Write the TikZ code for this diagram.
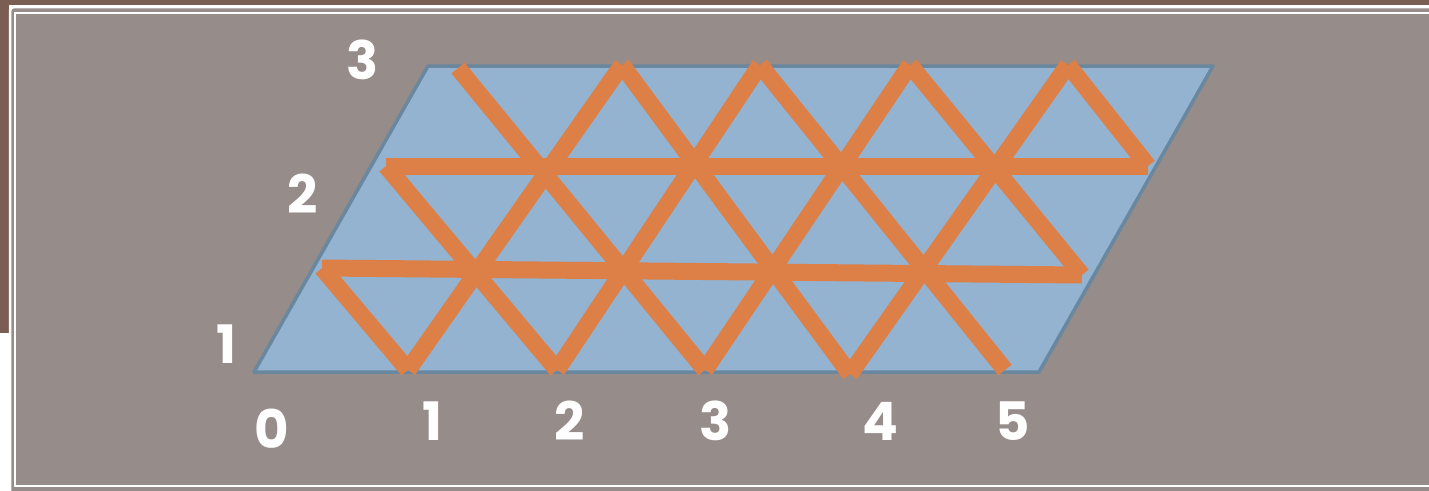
\documentclass[tikz,border=0pt]{standalone}
\usepackage{fontspec}
\newfontfamily\digitfont{Poppins}
\definecolor{slate}{HTML}{968C89}
\definecolor{frameBrown}{HTML}{7A5E54}
\definecolor{cellBlue}{HTML}{93B3D0}
\definecolor{edgeBlue}{HTML}{6A87A0}
\definecolor{latOrange}{HTML}{DD8048}
\begin{document}
\begin{tikzpicture}[x=1pt,y=-1pt,
  lab/.style={text=white,inner sep=0pt,font=\digitfont\bfseries\fontsize{53}{53}\selectfont},
  bar/.style={latOrange,line width=17pt,line cap=butt}]
\useasboundingbox (0,0) rectangle (1429,490);
% frame
\fill[white] (0,0) rectangle (1429,490);
\fill[frameBrown] (0,0) rectangle (1429,5);
\fill[frameBrown] (0,0) rectangle (9,333);
\draw[white,line width=2.5pt,fill=slate,rounded corners=4pt] (10,7) rectangle (1445,505);
\draw[white,line width=2pt] (15,13) rectangle (1440,486);
% parallelogram
\filldraw[fill=cellBlue,draw=edgeBlue,line width=3.5pt,line join=round]
  (254,372) -- (1039,372) -- (1213,66) -- (428,66) -- cycle;
% lattice points
\coordinate (b1) at (408,370);
\coordinate (b2) at (557,370);
\coordinate (b3) at (705,370);
\coordinate (b4) at (850,374);
\coordinate (b5) at (1005,370);
\coordinate (m0) at (322,268);
\coordinate (m5) at (1082,275);
\coordinate (n0) at (386,166);
\coordinate (n5) at (1148,166);
\coordinate (t0) at (458,68);
\coordinate (t1) at (622,65);
\coordinate (t2) at (760,65);
\coordinate (t3) at (910,65);
\coordinate (t4) at (1068,65);
\foreach \p/\q in {m0/m5,n0/n5,m0/b1,n0/b2,t0/b3,t1/b4,t2/b5,t3/m5,t4/n5,b1/t1,b2/t2,b3/t3,b4/t4}
  \draw[bar] (\p) -- (\q);
% labels
\node[lab] (y3) at (363,60) {3};
\node[lab] (y2) at (303,194) {2};
\node[lab] (y1) at (226,344) {1};
\node[lab] (x0) at (272,429) {0};
\foreach \k/\x in {1/432,2/570,3/716,4/880,5/1013}
  \node[lab] (x\k) at (\x,421) {\k};
\end{tikzpicture}
\end{document}
